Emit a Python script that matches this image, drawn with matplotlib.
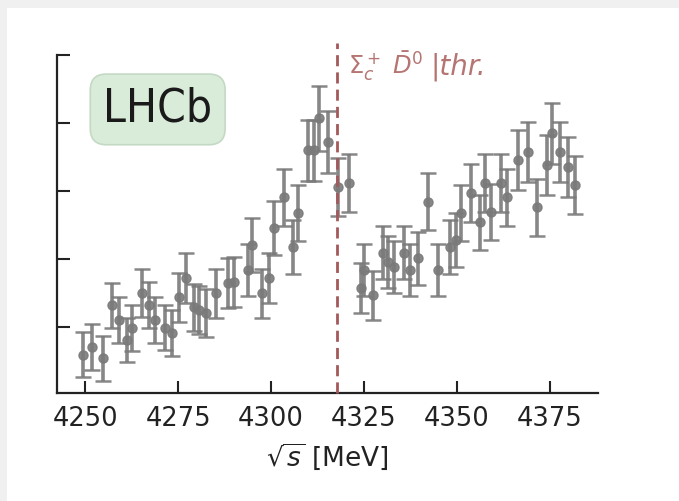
import matplotlib
matplotlib.use("Agg")
import matplotlib.pyplot as plt
from matplotlib.patches import Rectangle

# sqrt(s) bin centres [MeV], yields (arb. units) and their errors
energy = [4249.5, 4251.8, 4254.9, 4257.2, 4259.0, 4261.3, 4262.6, 4265.3, 4267.1, 4268.9,
          4271.6, 4273.4, 4275.2, 4277.0, 4279.2, 4280.6, 4282.4, 4285.1, 4288.3, 4290.0,
          4293.7, 4295.0, 4297.7, 4299.5, 4300.8, 4303.5, 4305.8, 4307.2, 4309.9, 4311.6,
          4313.0, 4315.3, 4318.0, 4321.0, 4324.2, 4325.1, 4327.4, 4330.1, 4331.4, 4333.2,
          4335.9, 4337.3, 4339.5, 4342.2, 4344.9, 4348.1, 4349.9, 4351.2, 4353.9, 4356.2,
          4357.5, 4359.3, 4362.0, 4363.4, 4366.5, 4369.2, 4371.5, 4374.2, 4375.5, 4377.8,
          4380.0, 4381.8]
yields = [0.59, 0.71, 0.54, 1.32, 1.10, 0.81, 0.99, 1.50, 1.32, 1.10,
          0.99, 0.91, 1.44, 1.72, 1.29, 1.25, 1.21, 1.50, 1.65, 1.66,
          1.84, 2.21, 1.50, 1.72, 2.46, 2.91, 2.18, 2.68, 3.60, 3.60,
          4.07, 3.72, 3.06, 3.12, 1.57, 1.84, 1.47, 2.09, 1.96, 1.88,
          2.09, 1.84, 2.01, 2.84, 1.84, 2.18, 2.28, 2.68, 2.97, 2.54,
          3.12, 2.69, 3.12, 2.91, 3.46, 3.57, 2.76, 3.38, 3.85, 3.57,
          3.35, 3.09]
errors = [0.33, 0.34, 0.33, 0.33, 0.34, 0.33, 0.34, 0.35, 0.34, 0.34,
          0.33, 0.34, 0.36, 0.37, 0.35, 0.35, 0.35, 0.36, 0.37, 0.37,
          0.38, 0.40, 0.36, 0.37, 0.40, 0.42, 0.40, 0.41, 0.45, 0.45,
          0.48, 0.46, 0.43, 0.43, 0.37, 0.38, 0.36, 0.39, 0.38, 0.38,
          0.39, 0.38, 0.39, 0.42, 0.38, 0.40, 0.40, 0.41, 0.42, 0.40,
          0.43, 0.41, 0.43, 0.42, 0.44, 0.44, 0.42, 0.44, 0.45, 0.44,
          0.44, 0.43]

threshold = 4317.7  # Sigma_c+ D0bar threshold
xticks = [4250, 4275, 4300, 4325, 4350, 4375]

fig = plt.figure(figsize=(6.79, 5.01), dpi=100, facecolor='white')
# light grey frame on the left and top edge of the picture
fig.add_artist(Rectangle((0, 0), 7 / 679, 1, transform=fig.transFigure,
                         facecolor='#f0f0f0', edgecolor='none', zorder=-1))
fig.add_artist(Rectangle((0, 1 - 8 / 501), 1, 8 / 501, transform=fig.transFigure,
                         facecolor='#f0f0f0', edgecolor='none', zorder=-1))
ax = fig.add_axes([57 / 679, 108 / 501, (598 - 57) / 679, (393 - 55) / 501])
ax.patch.set_alpha(0)

ax.errorbar(energy, yields, yerr=errors, fmt='o', color='#7a7a7a', alpha=0.9,
            ms=6.5, elinewidth=2.6, capsize=5.5, capthick=1.8)

ax.axvline(threshold, ymin=0, ymax=1.035, color='#a4585a', lw=2.0,
           dashes=(4, 2.2), clip_on=False, zorder=3)
ax.text(threshold + 3.0, 4.72, r'$\Sigma_c^+\ \bar{D}^0$', color='#b57573',
        fontsize=17.5, ha='left', va='baseline')
ax.text(4343.0, 4.72, '|thr.', color='#b57573', fontsize=20, style='italic',
        ha='left', va='baseline')

ax.text(4269.5, 4.2, 'LHCb', fontsize=33, fontstretch='condensed', ha='center',
        va='center', color='#1a1a1a',
        bbox=dict(boxstyle='round,pad=0.28,rounding_size=0.35', facecolor='#d9ecd9',
                  edgecolor='#c4d9c4', lw=1.2))

ax.set_xlim(4242.4, 4388)
ax.set_ylim(0.03, 5.0)
ax.set_xticks(xticks)
ax.set_yticks([1, 2, 3, 4, 5])
ax.set_yticklabels([])
ax.spines['top'].set_visible(False)
ax.spines['right'].set_visible(False)
for s in ['left', 'bottom']:
    ax.spines[s].set_linewidth(1.6)
    ax.spines[s].set_color('#222222')
ax.tick_params(direction='in', length=9, width=1.5, labelsize=18.5, pad=9, colors='#222222')
ax.set_xlabel(r'$\sqrt{s}$ [MeV]', fontsize=19, labelpad=7, color='#222222')

fig.savefig('out.png', dpi=100, facecolor=fig.get_facecolor())
